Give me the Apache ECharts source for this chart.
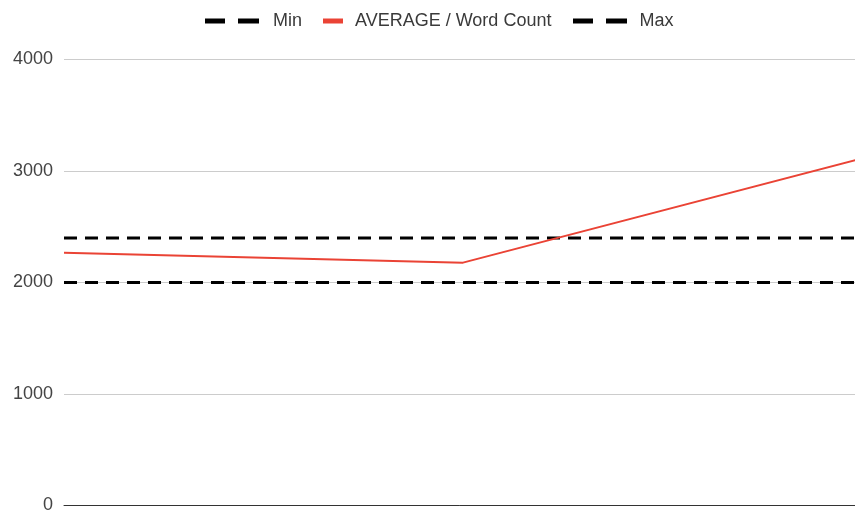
<!DOCTYPE html>
<html>
<head>
<meta charset="utf-8">
<style>
  html, body { margin: 0; padding: 0; background: #fff; overflow: hidden; }
  #chart { width: 855px; height: 510px; }
</style>
<script src="https://cdn.jsdelivr.net/npm/echarts@6/dist/echarts.min.js"></script>
</head>
<body>
<div id="chart"></div>
<script>
// Categories along the x axis (labels hidden)
const categories = ['A', 'B', 'C'];
// Average word count per category
const averageWordCount = [2267, 2178, 3112];
// Reference bounds drawn as dashed lines
const minValue = [2000, 2000, 2000];
const maxValue = [2400, 2400, 2400];
// Y axis ticks
const yMin = 0, yMax = 4000, yStep = 1000;

const chart = echarts.init(document.getElementById('chart'), null, { renderer: 'canvas' });

const FONT = '"Liberation Sans", Arial, sans-serif';
const dashStyle = { color: '#000', width: 3, type: [13, 8] };
const dashIcon = 'path://M0,0 H20 V5 H0 Z M33,0 H54 V5 H33 Z';
const solidIcon = 'path://M0,0 H20 V5 H0 Z';

function legendItem(name, left, width, icon, gap) {
  return {
    top: 12, left: left, padding: 0, itemWidth: width, itemHeight: 5,
    textStyle: { fontSize: 18, color: '#3a3a3a', fontFamily: FONT, padding: [0, 0, 0, gap] },
    selectedMode: false,
    data: [{ name: name, icon: icon }]
  };
}

chart.setOption({
  animation: false,
  textStyle: { fontFamily: FONT },
  legend: [
    legendItem('Min', 205, 54, dashIcon, 9),
    legendItem('AVERAGE / Word Count', 323, 20, solidIcon, 7),
    legendItem('Max', 573, 55, dashIcon, 7)
  ],
  grid: {
    left: 64, right: -7, top: 59.5, bottom: 4.5,
    containLabel: false, outerBoundsMode: 'none'
  },
  xAxis: {
    type: 'category',
    data: categories,
    boundaryGap: false,
    axisLine: { show: true, lineStyle: { color: '#333', width: 1 } },
    axisTick: { show: false },
    axisLabel: { show: false },
    splitLine: { show: false }
  },
  yAxis: {
    type: 'value',
    min: yMin,
    max: yMax,
    interval: yStep,
    axisLine: { show: false },
    axisTick: { show: false },
    axisLabel: { color: '#444', fontSize: 18, margin: 11, fontFamily: FONT, formatter: v => String(v) },
    splitLine: { lineStyle: { color: '#cccccc', width: 1 } }
  },
  series: [
    {
      name: 'Min', type: 'line', data: minValue, showSymbol: false, symbol: 'none',
      lineStyle: dashStyle, itemStyle: { color: '#000' }, legendIcon: dashIcon, z: 3
    },
    {
      name: 'AVERAGE / Word Count', type: 'line', data: averageWordCount, showSymbol: false, symbol: 'none',
      lineStyle: { color: '#ea4335', width: 2 }, itemStyle: { color: '#ea4335' }, legendIcon: solidIcon, z: 4
    },
    {
      name: 'Max', type: 'line', data: maxValue, showSymbol: false, symbol: 'none',
      lineStyle: dashStyle, itemStyle: { color: '#000' }, legendIcon: dashIcon, z: 3
    }
  ]
});
</script>
</body>
</html>
